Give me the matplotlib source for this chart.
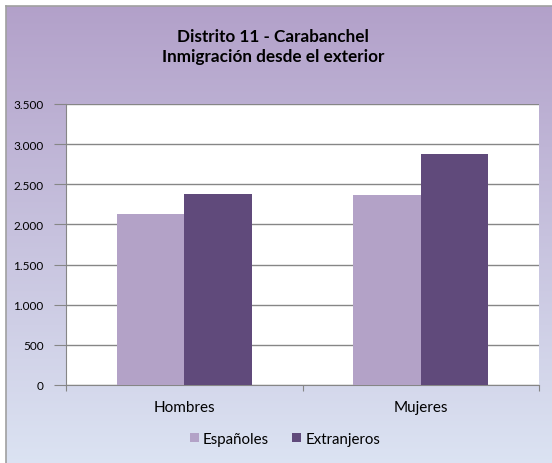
import numpy as np
import matplotlib.pyplot as plt
from matplotlib.ticker import FuncFormatter, FixedLocator

categories = ['Hombres', 'Mujeres']
espanoles = [2136, 2372]
extranjeros = [2385, 2872]
series_names = ['Españoles', 'Extranjeros']

plt.rcParams['font.family'] = ['Lato', 'DejaVu Sans']

fig = plt.figure(figsize=(5.52, 4.64), dpi=100)
fig.patch.set_facecolor('white')

# gradient chart background
bg = fig.add_axes([6 / 552, 0, 1 - 6 / 552, 1 - 7 / 464], zorder=-5)
top = np.array([0.70, 0.63, 0.79])
bottom = np.array([0.86, 0.89, 0.95])
t = np.linspace(0, 1, 256)[:, None]
grad = top * (1 - t) + bottom * t
bg.imshow(grad[:, None, :].repeat(2, axis=1), aspect='auto', extent=[0, 1, 0, 1])
bg.set_xlim(0, 1)
bg.set_ylim(0, 1)
bg.set_xticks([])
bg.set_yticks([])
for s in ['right', 'bottom']:
    bg.spines[s].set_visible(False)
for s in ['left', 'top']:
    bg.spines[s].set_color('#a0a0a0')
    bg.spines[s].set_linewidth(1.2)

ax = fig.add_axes([66 / 552, 78 / 464, 473 / 552, 281 / 464])
ax.set_facecolor('white')

x = np.arange(len(categories))
w = 0.286
ax.bar(x - w / 2, espanoles, w, color='#b3a2c7', label=series_names[0], zorder=3)
ax.bar(x + w / 2, extranjeros, w, color='#604a7b', label=series_names[1], zorder=3)

ax.set_xlim(-0.5, 1.5)
ax.set_ylim(0, 3500)
ax.set_yticks(np.arange(0, 3501, 500))
ax.yaxis.set_major_formatter(FuncFormatter(lambda v, p: f'{int(v):,}'.replace(',', '.')))
ax.grid(axis='y', color='#868686', linewidth=1, zorder=0)

ax.xaxis.set_major_locator(FixedLocator([-0.5, 0.5, 1.5]))
ax.set_xticklabels([])
ax.xaxis.set_minor_locator(FixedLocator(x))
ax.set_xticklabels(categories, minor=True)
ax.tick_params(axis='x', which='minor', length=0, pad=11, labelsize=11)
ax.tick_params(axis='x', which='major', length=4, color='#868686')
ax.tick_params(axis='y', length=9, color='#868686', labelsize=8.5, pad=7)

for s in ['top', 'right']:
    ax.spines[s].set_visible(False)
for s in ['left', 'bottom']:
    ax.spines[s].set_color('#868686')

fig.text(0.495, 1 - 47 / 464, 'Distrito 11 - Carabanchel\nInmigración desde el exterior',
         ha='center', va='center', fontsize=12.3, fontweight='bold', linespacing=1.3)

fig.legend(loc='center', bbox_to_anchor=(0.516, 1 - 440 / 464), ncol=2, frameon=False,
           fontsize=10.8, handlelength=0.6, handleheight=0.6, handletextpad=0.3,
           columnspacing=1.5)

fig.savefig('out.png', dpi=100)
